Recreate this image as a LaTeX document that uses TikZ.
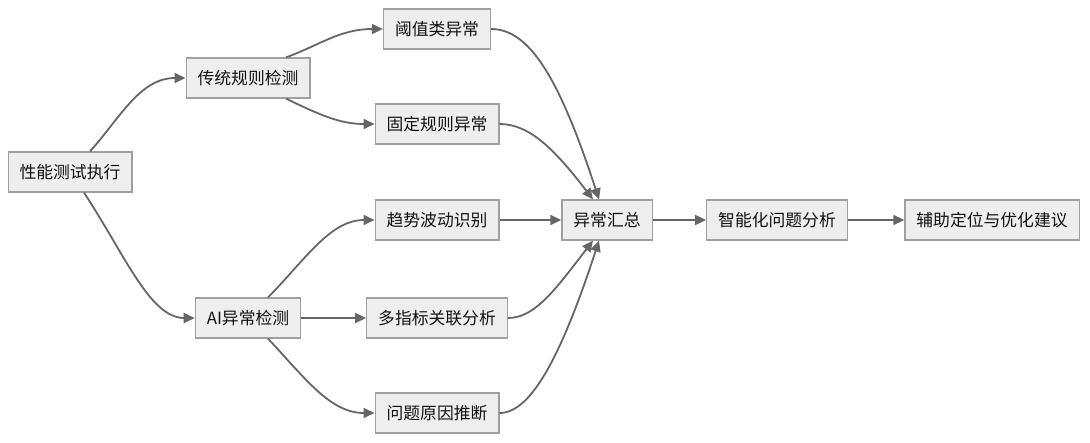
\documentclass[tikz,border=0pt]{standalone}
\usepackage{fontspec}
\setmainfont{Noto Sans CJK SC}
\usetikzlibrary{arrows.meta,calc}
\definecolor{boxfill}{HTML}{EEEEEE}
\definecolor{boxline}{HTML}{A0A0A0}
\definecolor{edgecol}{HTML}{666666}
\definecolor{txt}{HTML}{111111}
\begin{document}
\begin{tikzpicture}[x=1pt,y=-1pt,
  box/.style={draw=boxline,fill=boxfill,line width=1.2pt,minimum height=40pt,inner xsep=11.5pt,inner ysep=0pt,text=txt,font=\fontsize{16.8}{18}\selectfont,anchor=center},
  edge/.style={draw=edgecol,line width=1.8pt,-{Triangle[length=11pt,width=10pt]}}]
\useasboundingbox (0,0) rectangle (1090,442);
\node[box] (perf) at (70,172) {性能测试执行};
\node[box] (trad) at (248,78) {传统规则检测};
\node[box] (ai) at (248,318) {AI异常检测};
\node[box] (thr) at (437,29) {阈值类异常};
\node[box] (fix) at (437,124) {固定规则异常};
\node[box] (trend) at (437,220) {趋势波动识别};
\node[box] (multi) at (437,318) {多指标关联分析};
\node[box] (cause) at (437,413) {问题原因推断};
\node[box] (sum) at (607,220) {异常汇总};
\node[box] (smart) at (777,220) {智能化问题分析};
\node[box] (help) at (992,220) {辅助定位与优化建议};

\draw[edge] ($(perf.north)+(20,0)$) .. controls (120,118) and (140,78) .. (trad.west);
\draw[edge] ($(perf.south)+(14,0)$) .. controls (125,255) and (150,318) .. (ai.west);
\draw[edge] ($(trad.north)+(38,0)$) .. controls (320,45) and (340,29) .. (thr.west);
\draw[edge] ($(trad.south)+(38,0)$) .. controls (320,115) and (340,124) .. (fix.west);
\draw[edge] ($(ai.north)+(20,0)$) .. controls (305,260) and (330,220) .. (trend.west);
\draw[edge] (ai.east) -- (multi.west);
\draw[edge] ($(ai.south)+(20,0)$) .. controls (305,378) and (330,413) .. (cause.west);
\draw[edge] (thr.east) .. controls (530,29) and (560,80) .. ($(sum.north)+(-8,0)$);
\draw[edge] (fix.east) .. controls (530,124) and (555,150) .. ($(sum.north)+(-14,0)$);
\draw[edge] (trend.east) -- (sum.west);
\draw[edge] (multi.east) .. controls (535,318) and (555,290) .. ($(sum.south)+(-14,0)$);
\draw[edge] (cause.east) .. controls (530,413) and (560,360) .. ($(sum.south)+(-8,0)$);
\draw[edge] (sum.east) -- (smart.west);
\draw[edge] (smart.east) -- (help.west);
\end{tikzpicture}
\end{document}
